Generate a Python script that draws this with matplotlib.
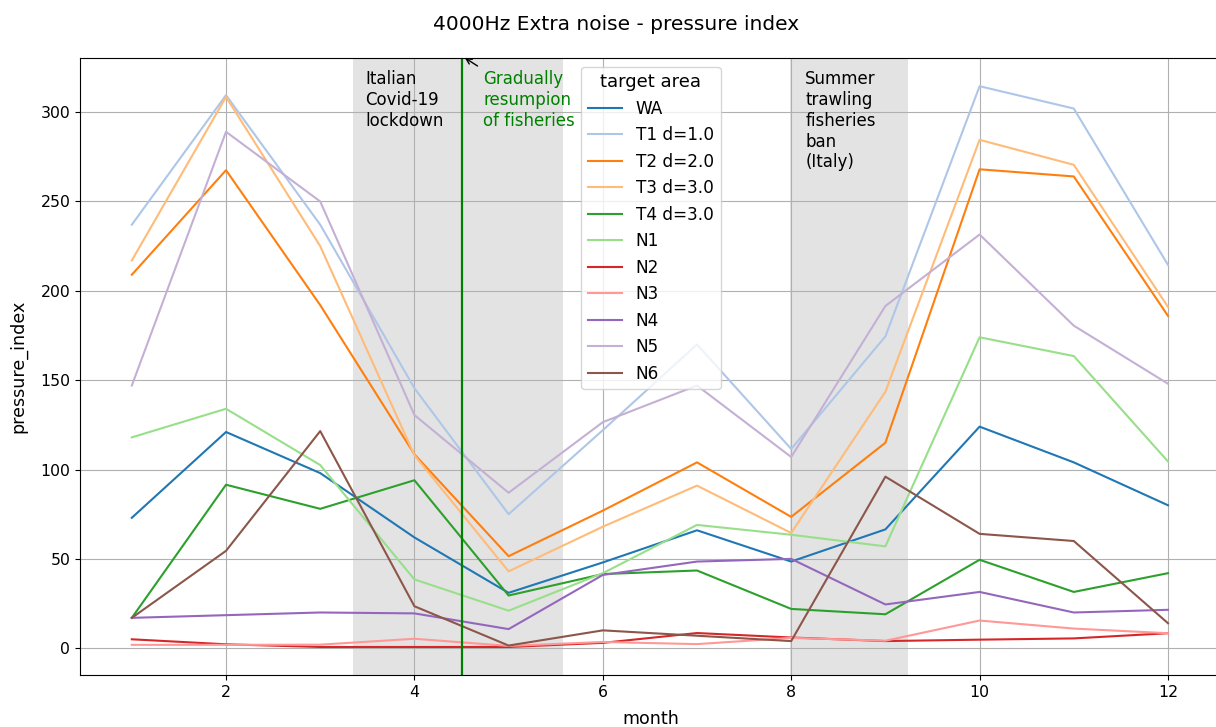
import matplotlib
matplotlib.use("Agg")
import matplotlib.pyplot as plt

# Monthly pressure index per target area
months = [1, 2, 3, 4, 5, 6, 7, 8, 9, 10, 11, 12]
series_names = ["WA", "T1 d=1.0", "T2 d=2.0", "T3 d=3.0", "T4 d=3.0",
                "N1", "N2", "N3", "N4", "N5", "N6"]

wa = [73, 121, 98, 62, 31, 48, 66, 48.5, 66.5, 124, 104, 80]
t1 = [237, 309.5, 237, 145.5, 75, 122, 170, 111.5, 174.5, 314.5, 302, 214.5]
t2 = [209, 267.5, 192, 108.5, 51.5, 77, 104, 73.5, 115, 268, 264, 186]
t3 = [217, 308.5, 225, 108, 43, 68, 91, 64.5, 143.5, 284.5, 270.5, 191]
t4 = [17, 91.5, 78, 94, 29.5, 41.5, 43.5, 22, 19, 49.5, 31.5, 42]
n1 = [118, 134, 102.5, 38.5, 21, 42, 69, 63.5, 57, 174, 163.5, 104.5]
n2 = [5, 2.2, 0.7, 0.7, 0.7, 3, 8.5, 6, 4, 4.8, 5.5, 8.4]
n3 = [1.9, 1.9, 2, 5.3, 1.3, 3.5, 2.3, 5.8, 4.2, 15.5, 11, 8.4]
n4 = [17, 18.5, 20, 19.5, 10.7, 41, 48.5, 50, 24.5, 31.5, 20, 21.5]
n5 = [147, 289, 250, 130.5, 87, 126.5, 147, 107, 191.5, 231.5, 180.5, 148]
n6 = [17, 54.5, 121.5, 23.5, 1.5, 10, 7, 4, 96, 64, 60, 14]

all_series = [wa, t1, t2, t3, t4, n1, n2, n3, n4, n5, n6]

# Event periods (fractional month)
lockdown_period = (3.35, 5.58)
trawling_ban_period = (7.99, 9.24)
resumption_month = 4.5

fig = plt.figure(figsize=(12.16, 7.27), dpi=100)
ax = fig.add_axes([0.0658, 0.0715, 0.9391, 0.8485])

colors = plt.get_cmap("tab20").colors
for i, (name, vals) in enumerate(zip(series_names, all_series)):
    ax.plot(months, vals, color=colors[i], lw=1.5, label=name)

ax.axvspan(*lockdown_period, color="#e3e3e3", zorder=0.5, lw=0)
ax.axvspan(*trawling_ban_period, color="#e3e3e3", zorder=0.5, lw=0)
ax.axvline(resumption_month, color="green", lw=1.6)

ax.text(3.48, 323.5, "Italian\nCovid-19\nlockdown", va="top", ha="left", fontsize=12)
ax.text(8.15, 323.5, "Summer\ntrawling\nfisheries\nban\n(Italy)", va="top", ha="left",
        fontsize=12)
ax.text(4.73, 323.5, "Gradually\nresumpion\nof fisheries", va="top", ha="left",
        fontsize=12, color="green")
ax.annotate("", xy=(4.535, 330.4), xytext=(4.67, 325.8),
            arrowprops=dict(arrowstyle="->", color="black", lw=1,
                            shrinkA=0, shrinkB=0))

ax.set_xlim(0.45, 12.573)
ax.grid(True)
ax.tick_params(labelsize=11.3)
ax.set_xlabel("month", fontsize=12.6, labelpad=7.5)
ax.set_ylabel("pressure_index", fontsize=12.6, labelpad=9)
ax.legend(title="target area", loc="upper center", fontsize=12.2, title_fontsize=13)
fig.suptitle("4000Hz Extra noise - pressure index", x=0.507, y=0.98, fontsize=14.5)

fig.savefig("out.png", dpi=100)
